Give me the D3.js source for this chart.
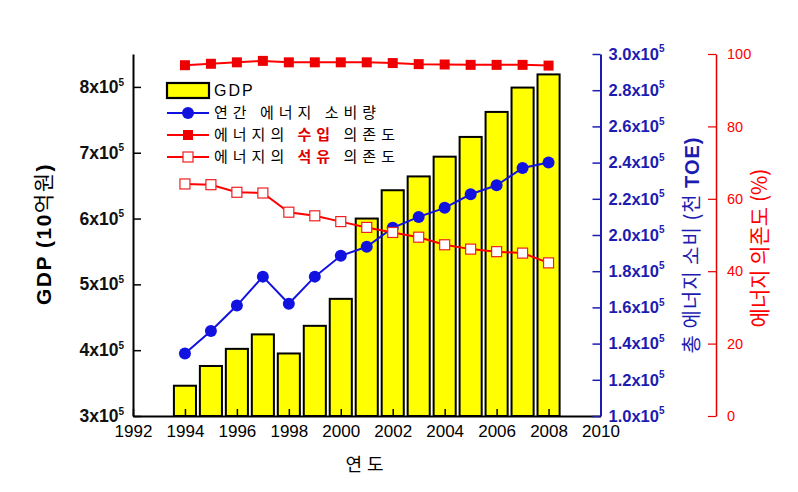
<!DOCTYPE html>
<html><head><meta charset="utf-8">
<script src="https://cdn.jsdelivr.net/npm/d3@7"></script>
<style>
html,body{margin:0;padding:0;background:#fff;}
svg{display:block;}
text{font-family:"Liberation Sans","Noto Sans CJK KR",Arial,sans-serif;}
.kr{font-family:"Noto Sans CJK KR","Liberation Sans",sans-serif;}
</style></head>
<body>
<script>
const years = [1994,1995,1996,1997,1998,1999,2000,2001,2002,2003,2004,2005,2006,2007,2008];
const gdp = [346000,376000,402000,424000,395000,437000,478000,600000,643000,664000,694000,724000,762000,799000,819000];
const energy = [134500,147000,161000,177000,162000,177000,188500,193500,204000,210000,215000,222500,227500,237000,240000];
const importDep = [96.9,97.3,97.7,98.1,97.7,97.7,97.7,97.7,97.5,97.2,97.1,97.0,97.0,97.0,96.8];
const oilDep = [64.1,63.9,61.8,61.6,56.3,55.3,53.7,52.1,50.7,49.4,47.3,46.1,45.4,45.0,42.3];
const xTicks = [1992,1994,1996,1998,2000,2002,2004,2006,2008,2010];
const gdpTicks = [300000,400000,500000,600000,700000,800000];
const energyTicks = [100000,120000,140000,160000,180000,200000,220000,240000,260000,280000,300000];
const pctTicks = [0,20,40,60,80,100];
const legendLabels = ["GDP","연간 에너지 소비량"];

const W=798,H=492;
const svg=d3.select("body").append("svg").attr("width",W).attr("height",H);
const x0=133,x1=600.5,yB=416,yT=54;
const x=d3.scaleLinear().domain([1992,2010]).range([x0,x1]);
const yG=d3.scaleLinear().domain([300000,850000]).range([yB,yT]);
const yE=d3.scaleLinear().domain([100000,300000]).range([yB,yT]);
const yP=d3.scaleLinear().domain([0,100]).range([yB,yT]);
const blue="#1212e0", blueAx="#1c1cb0", red="#ff0000";

// bars
const bw=(x(1993)-x(1992))*0.85;
svg.append("g").selectAll("rect").data(years).join("rect")
 .attr("x",(d)=>x(d)-bw/2).attr("width",bw)
 .attr("y",(d,i)=>yG(gdp[i])).attr("height",(d,i)=>yB-yG(gdp[i]))
 .attr("fill","#ffff00").attr("stroke","#000").attr("stroke-width",2);

function sup(sel, fmt){
  sel.selectAll("text").each(function(d){
    const t=d3.select(this); t.text(null);
    t.append("tspan").text(fmt(d));
    t.append("tspan").text("5").attr("font-size","10px").attr("dy","-0.75em");
  });
}

// left axis
const gl=svg.append("g").attr("transform",`translate(${x0},0)`);
gl.call(d3.axisLeft(yG).tickValues(d3.range(350000,850001,100000)).tickSizeInner(-4).tickSizeOuter(0).tickFormat(""));
gl.call(d3.axisLeft(yG).tickValues(gdpTicks).tickSizeInner(-8).tickSizeOuter(0).tickPadding(9).tickFormat(d=>d));
gl.selectAll("path").attr("stroke","#000").attr("stroke-width",2);
gl.selectAll("line").attr("stroke","#000").attr("stroke-width",1.5);
gl.selectAll("text").attr("font-size","17.5px").attr("font-weight","bold").attr("fill","#111");
sup(gl,d=>(d/100000)+"x10");

// bottom axis
const gb=svg.append("g").attr("transform",`translate(0,${yB})`);
gb.call(d3.axisBottom(x).tickValues(d3.range(1993,2010,2)).tickSizeInner(-4).tickSizeOuter(0).tickFormat(""));
gb.call(d3.axisBottom(x).tickValues(xTicks).tickSizeInner(-7).tickSizeOuter(0).tickPadding(9).tickFormat(d3.format("d")));
gb.selectAll("path").attr("stroke","#000").attr("stroke-width",2);
gb.selectAll("line").attr("stroke","#000").attr("stroke-width",1.5);
gb.selectAll("text").attr("font-size","17px").attr("fill","#000");

// blue axis
const ge=svg.append("g").attr("transform",`translate(${x1},0)`);
ge.call(d3.axisRight(yE).tickValues(d3.range(110000,300000,20000)).tickSizeInner(-4).tickSizeOuter(0).tickFormat(""));
ge.call(d3.axisRight(yE).tickValues(energyTicks).tickSizeInner(-8).tickSizeOuter(0).tickPadding(8).tickFormat(d=>d));
ge.selectAll("path").attr("stroke",blueAx).attr("stroke-width",2);
ge.selectAll("line").attr("stroke",blueAx).attr("stroke-width",1.5);
ge.selectAll("text").attr("font-size","16.5px").attr("font-weight","bold").attr("fill",blueAx);
sup(ge,d=>(d/100000).toFixed(1)+"x10");

// red axis
const xr=716;
const gr=svg.append("g").attr("transform",`translate(${xr},0)`);
gr.call(d3.axisRight(yP).tickValues(d3.range(10,100,20)).tickSizeInner(-4).tickSizeOuter(0).tickFormat(""));
gr.call(d3.axisRight(yP).tickValues(pctTicks).tickSizeInner(-8).tickSizeOuter(0).tickPadding(11));
gr.selectAll("path").attr("stroke","#e00000").attr("stroke-width",1.5);
gr.selectAll("line").attr("stroke","#e00000").attr("stroke-width",1.2);
gr.selectAll("text").attr("font-size","14.5px").attr("fill",red);

// lines
const lineE=d3.line().x((d,i)=>x(years[i])).y(d=>yE(d));
svg.append("path").datum(energy).attr("d",lineE).attr("fill","none").attr("stroke",blue).attr("stroke-width",2);
svg.append("g").selectAll("circle").data(energy).join("circle")
 .attr("cx",(d,i)=>x(years[i])).attr("cy",d=>yE(d)).attr("r",6).attr("fill",blue);

const lineP=d3.line().x((d,i)=>x(years[i])).y(d=>yP(d));
svg.append("path").datum(importDep).attr("d",lineP).attr("fill","none").attr("stroke",red).attr("stroke-width",2);
svg.append("g").selectAll("rect").data(importDep).join("rect")
 .attr("x",(d,i)=>x(years[i])-5).attr("y",d=>yP(d)-5).attr("width",10).attr("height",10).attr("fill","#ee0000");
svg.append("path").datum(oilDep).attr("d",lineP).attr("fill","none").attr("stroke",red).attr("stroke-width",2);
svg.append("g").selectAll("rect").data(oilDep).join("rect")
 .attr("x",(d,i)=>x(years[i])-5).attr("y",d=>yP(d)-5).attr("width",10).attr("height",10)
 .attr("fill","#fff").attr("stroke","#ee2020").attr("stroke-width",1.2);

// legend
const lg=svg.append("g");
const lx=167, lw=42, tx=214, fs="15px", ls="5px";
lg.append("rect").attr("x",lx).attr("y",83).attr("width",lw).attr("height",15).attr("fill","#ffff00").attr("stroke","#000").attr("stroke-width",2.2);
lg.append("text").attr("x",tx).attr("y",96).attr("font-size","16px").attr("letter-spacing","2px").text(legendLabels[0]);
function lgLine(y,color){lg.append("line").attr("x1",lx).attr("x2",lx+lw).attr("y1",y).attr("y2",y).attr("stroke",color).attr("stroke-width",2);}
lgLine(113,blue); lg.append("circle").attr("cx",lx+lw/2).attr("cy",113).attr("r",6).attr("fill",blue);
lg.append("text").attr("class","kr").attr("x",tx).attr("y",118).attr("font-size",fs).attr("letter-spacing",ls).text(legendLabels[1]);
lgLine(135,red); lg.append("rect").attr("x",lx+lw/2-5).attr("y",130).attr("width",10).attr("height",10).attr("fill","#ee0000");
const t3=lg.append("text").attr("class","kr").attr("x",tx).attr("y",140).attr("font-size",fs).attr("letter-spacing",ls);
t3.append("tspan").text("에너지의 ");
t3.append("tspan").text("수입").attr("fill","#e00000").attr("font-weight","bold");
t3.append("tspan").text(" 의존도");
lgLine(157,red); lg.append("rect").attr("x",lx+lw/2-5).attr("y",152).attr("width",10).attr("height",10).attr("fill","#fff").attr("stroke","#ee2020").attr("stroke-width",1.2);
const t4=lg.append("text").attr("class","kr").attr("x",tx).attr("y",162).attr("font-size",fs).attr("letter-spacing",ls);
t4.append("tspan").text("에너지의 ");
t4.append("tspan").text("석유").attr("fill","#e00000").attr("font-weight","bold");
t4.append("tspan").text(" 의존도");

// axis titles
const tl=svg.append("text").attr("transform","translate(51,234) rotate(-90)").attr("text-anchor","middle")
 .attr("font-size","21px").attr("font-weight","bold").attr("letter-spacing","1.5px");
tl.append("tspan").text("GDP (10");
tl.append("tspan").attr("class","kr").attr("font-weight","normal").text("억원");
tl.append("tspan").text(")");

const tb=svg.append("text").attr("transform","translate(699,245) rotate(-90)").attr("text-anchor","middle")
 .attr("font-size","20px").attr("fill",blueAx).attr("letter-spacing","1px");
tb.append("tspan").attr("class","kr").text("총 에너지 소비 (천 ");
tb.append("tspan").attr("font-weight","bold").text("TOE)");

svg.append("text").attr("class","kr").attr("transform","translate(767,248) rotate(-90)").attr("text-anchor","middle")
 .attr("font-size","21px").attr("fill",red).text("에너지 의존도 (%)");

svg.append("text").attr("class","kr").attr("x",367).attr("y",471).attr("text-anchor","middle")
 .attr("font-size","18px").attr("letter-spacing","5px").text("연도");
</script>
</body></html>
